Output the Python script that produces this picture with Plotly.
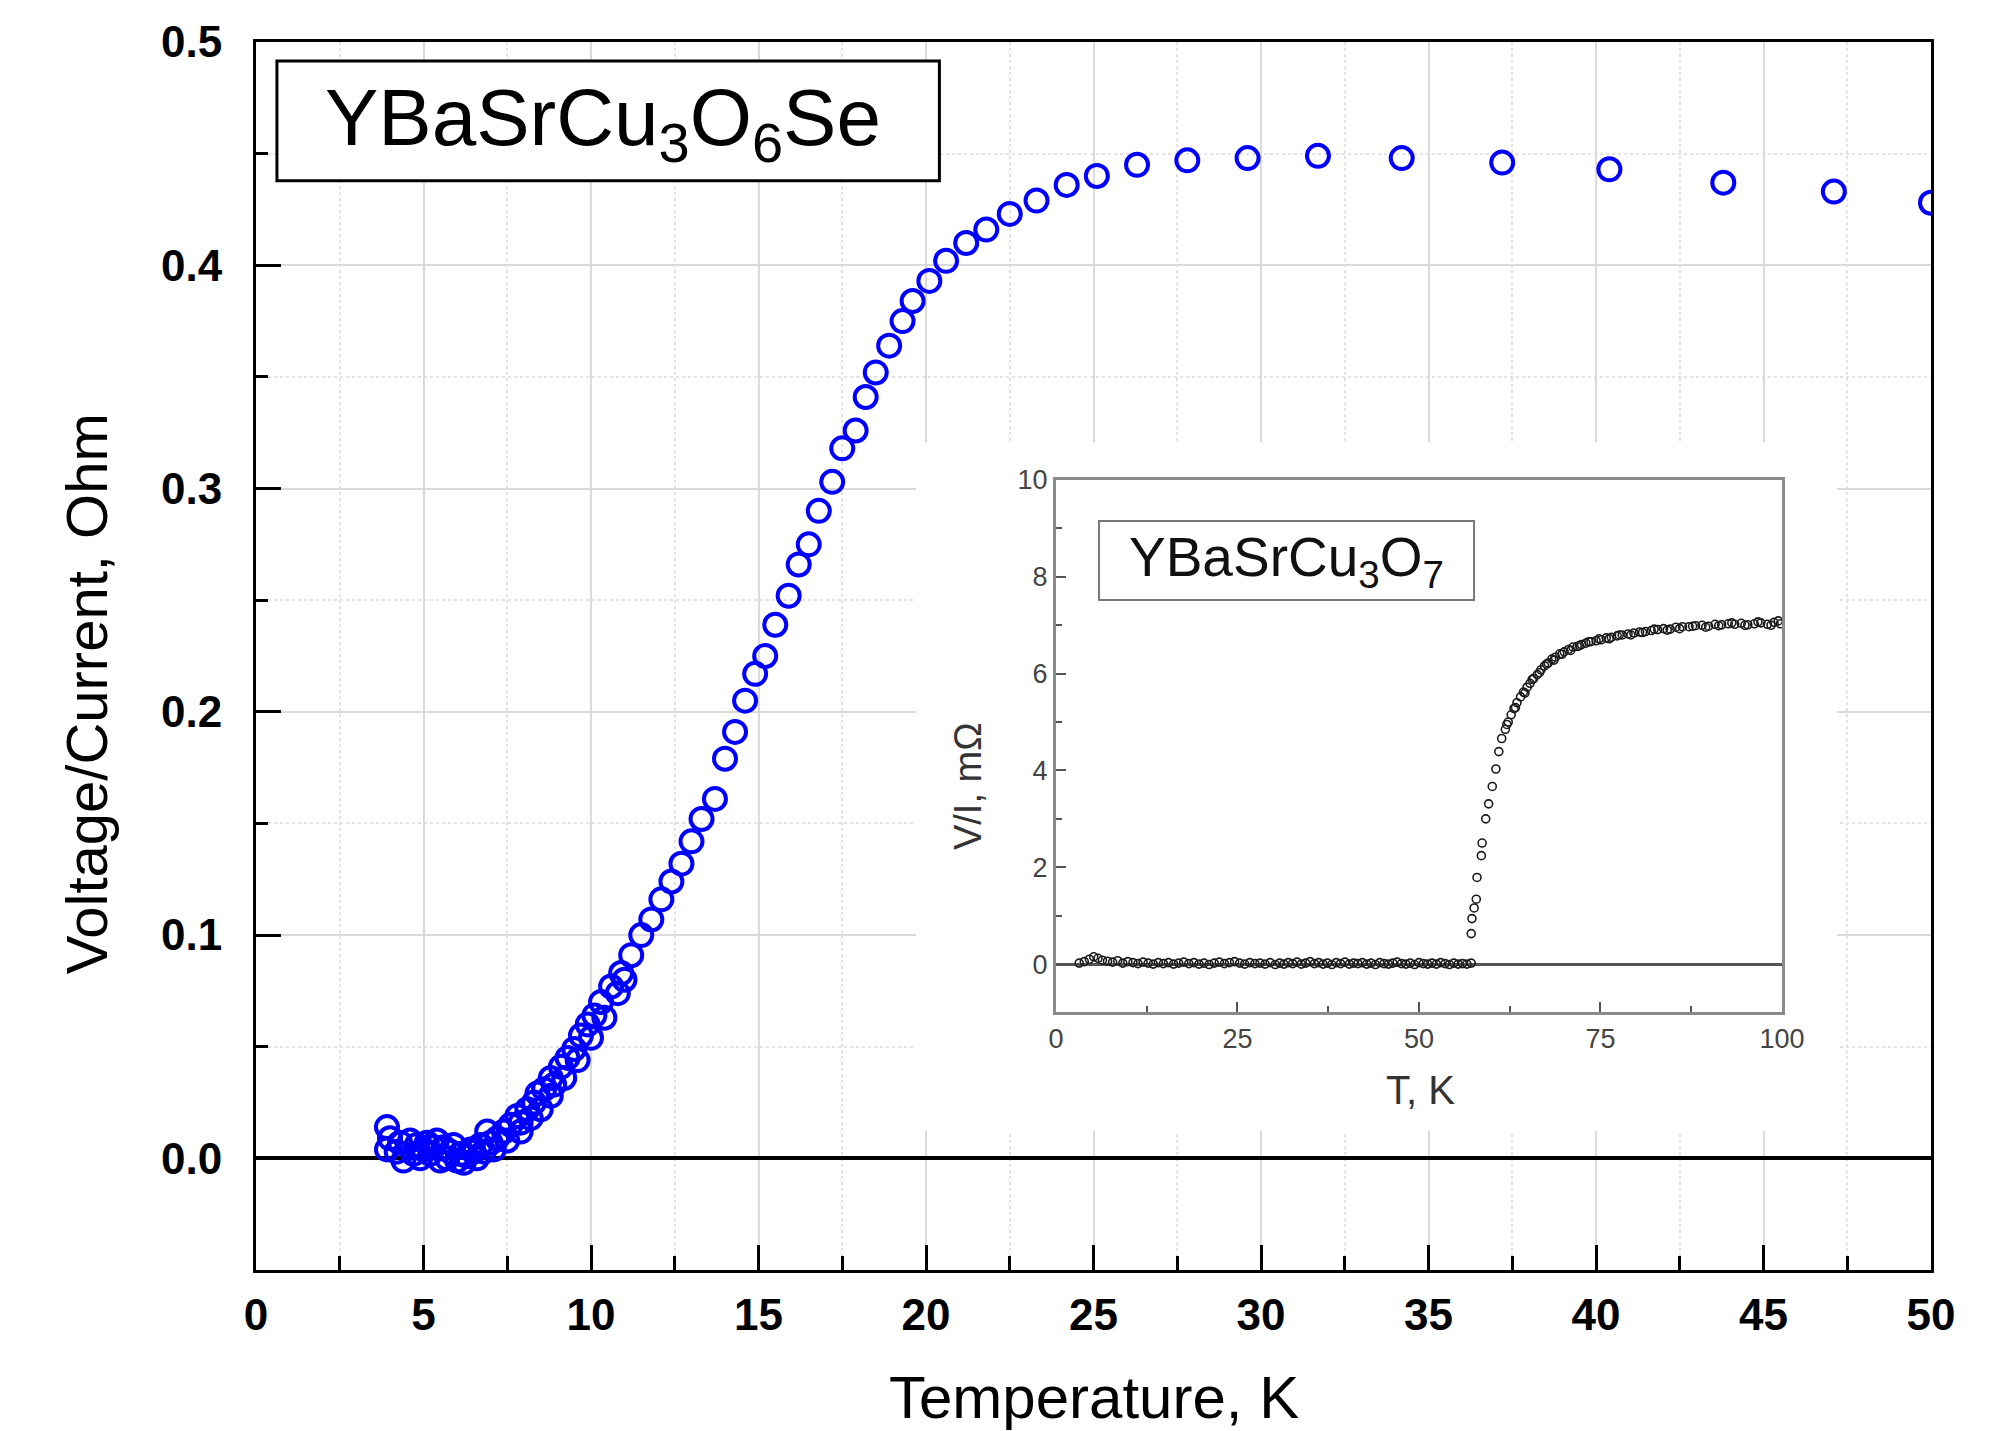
import plotly.graph_objects as go

# ---------------- main series: YBaSrCu3O6Se ----------------
T_main = [3.91, 3.91, 4.0, 4.2, 4.3, 4.4, 4.6, 4.7, 4.8, 4.9, 5.0, 5.1, 5.2, 5.3, 5.4, 5.5,
          5.6, 5.7, 5.8, 5.9, 6.0, 6.1, 6.2, 6.3, 6.4, 6.5, 6.6, 6.7, 6.8, 6.9, 7.0, 7.1,
          7.2, 7.4, 7.5, 7.6, 7.8, 7.9, 7.9, 8.1, 8.2, 8.3, 8.4, 8.5, 8.6, 8.8, 8.8, 8.9,
          9.1, 9.2, 9.3, 9.5, 9.6, 9.7, 9.9, 10.0, 10.1, 10.3, 10.4, 10.6, 10.8, 10.9, 11.0,
          11.2, 11.5, 11.8, 12.1, 12.4, 12.7, 13.0, 13.3, 13.7, 14.0, 14.3, 14.6, 14.9,
          15.2, 15.5, 15.9, 16.2, 16.5, 16.8, 17.2, 17.5, 17.9, 18.2, 18.5, 18.9, 19.3,
          19.6, 20.1, 20.6, 21.2, 21.8, 22.5, 23.3, 24.2, 25.1, 26.3, 27.8, 29.6, 31.7,
          34.2, 37.2, 40.4, 43.8, 47.1, 50.0]
R_main = [0.014, 0.004, 0.009, 0.003, 0.007, -0.001, 0.008, 0.002, 0.006, 0.000, 0.004,
          0.007, 0.002, 0.005, 0.008, -0.001, 0.005, 0.000, 0.003, 0.006, -0.001, 0.002,
          -0.002, 0.001, 0.004, 0.003, 0.000, 0.006, 0.003, 0.012, 0.007, 0.004,
          0.009, 0.012, 0.008, 0.015, 0.019, 0.016, 0.012, 0.022, 0.018, 0.025, 0.029,
          0.022, 0.031, 0.036, 0.028, 0.033, 0.041, 0.036, 0.045, 0.049, 0.044, 0.055,
          0.060, 0.054, 0.064, 0.070, 0.063, 0.077, 0.074, 0.083, 0.080,
          0.091, 0.100, 0.107, 0.116, 0.124, 0.132, 0.142, 0.152, 0.161, 0.179, 0.191,
          0.205, 0.217, 0.225, 0.239, 0.252, 0.266, 0.275, 0.290, 0.303, 0.318, 0.326,
          0.341, 0.352, 0.364, 0.375, 0.384, 0.393, 0.402, 0.410, 0.416, 0.423, 0.429,
          0.436, 0.440, 0.445, 0.447, 0.448, 0.449, 0.448, 0.446, 0.443, 0.437, 0.433,
          0.428]

# ---------------- inset series: YBaSrCu3O7 ----------------
T_inset = [3.2, 3.9, 4.6, 5.2, 5.8, 6.4, 7.1, 7.8, 8.5, 9.2, 9.9, 10.6, 11.3, 12.0, 12.7,
           13.4, 14.1, 14.8, 15.5, 16.2, 16.9, 17.6, 18.3, 19.0, 19.7, 20.4, 21.1, 21.8,
           22.5, 23.2, 23.9, 24.6, 25.3, 26.0, 26.7, 27.4, 28.1, 28.8, 29.5, 30.2, 30.8,
           31.4, 32.0, 32.6, 33.2, 33.8, 34.4, 35.0, 35.6, 36.2, 36.8, 37.4, 38.0, 38.6,
           39.2, 39.8, 40.4, 41.0, 41.6, 42.2, 42.8, 43.4, 44.0, 44.6, 45.2, 45.8, 46.4,
           47.0, 47.6, 48.2, 48.8, 49.4, 50.0, 50.6, 51.2, 51.8, 52.4, 53.0, 53.6, 54.2,
           54.8, 55.4, 56.0, 56.6, 57.2,
           57.2, 57.3, 57.6, 57.9, 58.0, 58.6, 58.7, 59.2, 59.6, 60.1, 60.6, 61.0, 61.4,
           61.9, 62.1, 62.3, 62.7, 63.1, 63.3, 63.5, 64.0, 64.4, 64.6, 64.9, 65.3, 65.6,
           65.8, 66.3, 66.6, 66.8, 67.3, 67.6, 67.8, 68.3, 68.6, 68.8, 69.4, 69.7, 70.0,
           70.6, 70.9, 71.2, 71.8, 72.1, 72.4, 73.0, 73.4, 73.7, 74.4, 74.8, 75.1, 75.8,
           76.2, 76.5, 77.3, 77.6, 78.0, 78.8, 79.2, 79.6, 80.4, 80.8, 81.2, 82.0, 82.4,
           82.9, 83.7, 84.2, 84.6, 85.4, 85.9, 86.3, 87.2, 87.7, 88.1, 89.0, 89.5, 89.9,
           90.8, 91.3, 91.7, 92.6, 93.1, 93.5, 94.4, 94.9, 95.3, 96.2, 96.7, 97.1, 98.0,
           98.5, 98.9, 99.5, 99.8]
R_inset = [0.02, 0.05, 0.10, 0.15, 0.12, 0.08, 0.06, 0.04, 0.07, 0.02, 0.05, 0.03, 0.01,
           0.04, 0.02, 0.00, 0.03, 0.01, 0.03, 0.00, 0.02, 0.04, 0.01, 0.03, 0.00, 0.02,
           -0.01, 0.02, 0.04, 0.01, 0.03, 0.05, 0.02, 0.00, 0.03, 0.01, 0.02, 0.00, 0.03,
           -0.01, 0.02, 0.00, 0.03, 0.01, 0.04, 0.00, 0.02, 0.05, 0.01, 0.03, 0.00, 0.02,
           -0.01, 0.03, 0.01, 0.04, 0.00, 0.02, 0.01, 0.03, 0.00, 0.02, -0.01, 0.03, 0.01,
           0.00, 0.02, 0.04, 0.01, 0.00, 0.02, -0.01, 0.03, 0.01, 0.00, 0.02, 0.00, 0.03,
           0.01, -0.01, 0.02, 0.00, 0.01, 0.00, 0.02,
           0.63, 0.94, 1.16, 1.34, 1.79, 2.24, 2.50, 3.00, 3.31, 3.67, 4.03, 4.39, 4.66,
           4.85, 4.95, 5.00, 5.15, 5.28, 5.30, 5.40, 5.52, 5.62, 5.60, 5.72, 5.80, 5.88,
           5.90, 5.98, 6.02, 6.08, 6.16, 6.20, 6.22, 6.30, 6.28, 6.34, 6.41, 6.40, 6.45,
           6.50, 6.48, 6.55, 6.56, 6.58, 6.60, 6.63, 6.66, 6.66, 6.68, 6.72, 6.70, 6.74,
           6.72, 6.75, 6.78, 6.80, 6.80, 6.82, 6.80, 6.84, 6.86, 6.85, 6.87, 6.89, 6.92,
           6.91, 6.93, 6.90, 6.92, 6.96, 6.93, 6.97, 6.97, 6.98, 6.99, 7.00, 6.96, 6.98,
           7.02, 6.99, 7.01, 7.03, 7.05, 7.02, 7.04, 7.00, 7.01, 7.03, 7.07, 7.05, 7.02,
           7.00, 7.06, 7.09, 7.03]

main_xticks = [0, 5, 10, 15, 20, 25, 30, 35, 40, 45, 50]
main_yticks = [0.0, 0.1, 0.2, 0.3, 0.4, 0.5]
inset_xticks = [0, 25, 50, 75, 100]
inset_yticks = [0, 2, 4, 6, 8, 10]

FONT = "Arial, 'Liberation Sans', sans-serif"

fig = go.Figure()
fig.add_trace(go.Scatter(
    x=T_main, y=R_main, mode="markers", xaxis="x", yaxis="y",
    marker=dict(symbol="circle-open", size=22, color="#0000ff",
                line=dict(width=4, color="#0000ff")),
    showlegend=False, hoverinfo="skip"))
fig.add_trace(go.Scatter(
    x=T_inset, y=R_inset, mode="markers", xaxis="x2", yaxis="y2",
    marker=dict(symbol="circle-open", size=8, color="#1a1a1a",
                line=dict(width=1.6, color="#1a1a1a")),
    showlegend=False, hoverinfo="skip"))

fig.update_layout(
    width=1992, height=1431,
    margin=dict(l=256, r=61, t=42, b=161),
    paper_bgcolor="white", plot_bgcolor="white",
    font=dict(family=FONT, color="black"),
    xaxis=dict(
        domain=[0, 1], anchor="y", range=[0, 50],
        tickmode="array", tickvals=main_xticks,
        ticks="inside", ticklen=25, tickwidth=3, tickcolor="black",
        showline=True, linecolor="black", linewidth=3, mirror=True,
        showgrid=True, gridcolor="#dadada", gridwidth=2, zeroline=False,
        tickfont=dict(size=44, weight="bold", family=FONT, color="black"),
        ticklabelstandoff=4,
        minor=dict(dtick=2.5, tick0=0, ticks="inside", ticklen=14, tickwidth=3,
                   tickcolor="black", showgrid=True, gridcolor="#e2e2e2",
                   griddash="dot", gridwidth=2),
    ),
    yaxis=dict(
        domain=[0, 1], anchor="x", range=[-0.05, 0.5],
        tickmode="array", tickvals=main_yticks, tickformat=".1f",
        ticks="inside", ticklen=25, tickwidth=3, tickcolor="black",
        showline=True, linecolor="black", linewidth=3, mirror=True,
        showgrid=True, gridcolor="#dadada", gridwidth=2,
        zeroline=True, zerolinecolor="black", zerolinewidth=4,
        tickfont=dict(size=44, weight="bold", family=FONT, color="black"),
        ticklabelstandoff=22,
        minor=dict(dtick=0.05, tick0=0, ticks="inside", ticklen=12, tickwidth=3,
                   tickcolor="black", showgrid=True, gridcolor="#e2e2e2",
                   griddash="dot", gridwidth=2),
    ),
    xaxis2=dict(
        domain=[0.4776, 0.911], anchor="y2", range=[0, 100],
        tickmode="array", tickvals=inset_xticks,
        ticks="inside", ticklen=10, tickwidth=2, tickcolor="#555555",
        showline=True, linecolor="#8a8a8a", linewidth=3, mirror=True,
        showgrid=False, zeroline=False,
        tickfont=dict(size=27, family=FONT, color="#444444"),
        minor=dict(dtick=12.5, tick0=0, ticks="inside", ticklen=6, tickwidth=2,
                   tickcolor="#555555", showgrid=False),
    ),
    yaxis2=dict(
        domain=[0.2097, 0.6433], anchor="x2", range=[-1, 10],
        tickmode="array", tickvals=inset_yticks,
        ticks="inside", ticklen=10, tickwidth=2, tickcolor="#555555",
        showline=True, linecolor="#8a8a8a", linewidth=3, mirror=True,
        showgrid=False, zeroline=True, zerolinecolor="#555555", zerolinewidth=2.5,
        tickfont=dict(size=27, family=FONT, color="#444444"),
        minor=dict(dtick=1, tick0=0, ticks="inside", ticklen=6, tickwidth=2,
                   tickcolor="#555555", showgrid=False),
    ),
    shapes=[
        # white area behind the inset (hides main grid)
        dict(type="rect", xref="x", yref="y", x0=19.70, x1=47.19, y0=0.0122, y1=0.3208,
             fillcolor="white", line=dict(width=0), layer="between"),
        # main label box
        dict(type="rect", xref="paper", yref="paper", x0=0.0125, x1=0.408,
             y0=0.887, y1=0.9845, fillcolor="white",
             line=dict(color="black", width=3), layer="above"),
        # inset label box
        dict(type="rect", xref="paper", yref="paper", x0=0.5033, x1=0.7272,
             y0=0.5456, y1=0.6099, fillcolor="white",
             line=dict(color="#777777", width=2), layer="above"),
    ],
    annotations=[
        dict(text="YBaSrCu<sub>3</sub>O<sub>6</sub>Se", xref="paper", yref="paper",
             x=0.2074, y=0.934, xanchor="center", yanchor="middle", showarrow=False,
             font=dict(size=80, family=FONT, color="black")),
        dict(text="YBaSrCu<sub>3</sub>O<sub>7</sub>", xref="paper", yref="paper",
             x=0.6152, y=0.577, xanchor="center", yanchor="middle", showarrow=False,
             font=dict(size=55, family=FONT, color="#111111")),
        dict(text="Temperature, K", xref="paper", yref="paper",
             x=0.5, y=-0.1035, xanchor="center", yanchor="middle", showarrow=False,
             font=dict(size=60, family=FONT, color="black")),
        dict(text="Voltage/Current, Ohm", xref="paper", yref="paper",
             x=-0.1014, y=0.469, xanchor="center", yanchor="middle", showarrow=False,
             textangle=-90, font=dict(size=58, family=FONT, color="black")),
        dict(text="T, K", xref="paper", yref="paper",
             x=0.695, y=0.1466, xanchor="center", yanchor="middle", showarrow=False,
             font=dict(size=40, family=FONT, color="#333333")),
        dict(text="V/I, mΩ", xref="paper", yref="paper",
             x=0.425, y=0.394, xanchor="center", yanchor="middle", showarrow=False,
             textangle=-90, font=dict(size=38, family=FONT, color="#333333")),
    ],
)

fig.write_html("out.html")
